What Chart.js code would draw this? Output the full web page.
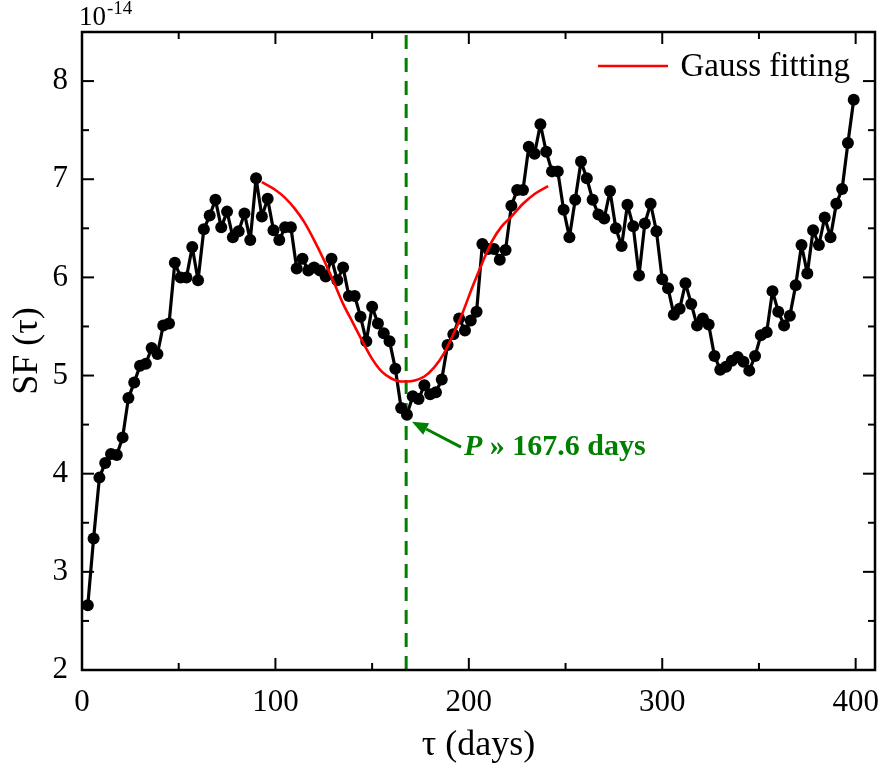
<!DOCTYPE html>
<html><head><meta charset="utf-8">
<script src="https://cdn.jsdelivr.net/npm/chart.js@4.4.1/dist/chart.umd.min.js"></script>
<style>html,body{margin:0;padding:0;background:#fff}#wrap{width:883px;height:770px}</style>
</head><body><div id="wrap"><canvas id="c" width="883" height="770"></canvas></div>
<script>
// ---- data ----
const tau = [3,6,9,12,15,18,21,24,27,30,33,36,39,42,45,48,51,54,57,60,63,66,69,72,75,78,81,84,87,90,93,96,
 99,102,105,108,111,114,117,120,123,126,129,132,135,138,141,144,147,150,153,156,159,162,165,168,171,174,177,180,183,186,
 189,192,195,198,201,204,207,210,213,216,219,222,225,228,231,234,237,240,243,246,249,252,255,258,261,264,267,270,273,276,
 279,282,285,288,291,294,297,300,303,306,309,312,315,318,321,324,327,330,333,336,339,342,345,348,351,354,357,360,363,366,369,372,375,378,381,384,387,390,393,396,399];
const sf = [2.66,3.34,3.96,4.11,4.20,4.19,4.37,4.77,4.93,5.10,5.12,5.28,5.22,5.51,5.53,6.15,6.00,6.00,6.31,5.97,6.49,6.63,6.79,6.51,6.67,6.41,6.47,6.65,6.38,7.01,6.62,6.80,
 6.48,6.38,6.51,6.51,6.09,6.19,6.07,6.10,6.07,6.01,6.19,5.97,6.10,5.81,5.81,5.60,5.35,5.70,5.53,5.43,5.35,5.07,4.67,4.60,4.79,4.76,4.90,4.81,4.83,4.96,
 5.31,5.42,5.58,5.46,5.56,5.65,6.34,6.29,6.29,6.18,6.28,6.73,6.89,6.89,7.33,7.26,7.56,7.28,7.08,7.08,6.69,6.41,6.79,7.18,7.01,6.79,6.64,6.60,6.88,6.50,
 6.32,6.74,6.52,6.02,6.55,6.75,6.47,5.98,5.89,5.62,5.68,5.94,5.73,5.51,5.58,5.52,5.20,5.06,5.09,5.15,5.19,5.14,5.05,5.20,5.41,5.44,5.86,5.65,5.51,5.61,5.92,6.33,6.04,6.48,6.33,6.61,6.41,6.75,6.90,7.37,7.81];
const fitTau = [93,100,105,110,115,120,125,130,135,140,145,150,155,160,165,168,172,177,182,187,192,197,202,207,212,217,222,228,234,241];
const fitSF  = [6.97,6.89,6.81,6.70,6.56,6.38,6.18,5.96,5.73,5.54,5.35,5.17,5.04,4.97,4.94,4.94,4.95,4.99,5.08,5.22,5.42,5.65,5.91,6.15,6.37,6.52,6.62,6.75,6.85,6.93];
const xTicks = [0,100,200,300,400];
const xMinorTicks = [50,150,250,350];
const yTicks = [2,3,4,5,6,7,8];
const yMinorTicks = [2.5,3.5,4.5,5.5,6.5,7.5];
const period = 167.6;
const periodLabelItalic = 'P';
const periodLabelRest = ' \u00bb ' + period + ' days';
const fitLabel = 'Gauss fitting';
const yExponent = '-14';
const arrowTip = {x: 170.6, y: 4.53};
const labelAnchor = {x: 197.5, y: 4.19};

const FONT = "'Liberation Serif','Times New Roman',serif";
const GREEN = '#008000';

const frameAndDecor = {
  id: 'frameAndDecor',
  afterDraw(chart) {
    const ctx = chart.ctx, ca = chart.chartArea, xs = chart.scales.x, ys = chart.scales.y;
    ctx.save();
    ctx.strokeStyle = '#000';
    ctx.lineWidth = 2;
    const seg = (a, b, c, d) => { ctx.beginPath(); ctx.moveTo(a, b); ctx.lineTo(c, d); ctx.stroke(); };
    xTicks.forEach(v => { const p = xs.getPixelForValue(v); seg(p, ca.bottom, p, ca.bottom - 12); seg(p, ca.top, p, ca.top + 12); });
    xMinorTicks.forEach(v => { const p = xs.getPixelForValue(v); seg(p, ca.bottom, p, ca.bottom - 7); seg(p, ca.top, p, ca.top + 7); });
    yTicks.forEach(v => { const p = ys.getPixelForValue(v); seg(ca.left, p, ca.left + 12, p); seg(ca.right, p, ca.right - 12, p); });
    yMinorTicks.forEach(v => { const p = ys.getPixelForValue(v); seg(ca.left, p, ca.left + 7, p); seg(ca.right, p, ca.right - 7, p); });
    ctx.lineWidth = 2.5;
    ctx.strokeRect(ca.left, ca.top, ca.right - ca.left, ca.bottom - ca.top);

    // exponent label
    ctx.fillStyle = '#000';
    ctx.textBaseline = 'alphabetic';
    ctx.textAlign = 'left';
    ctx.font = '27px ' + FONT;
    ctx.fillText('10', ca.left - 3, 25);
    const w10 = ctx.measureText('10').width;
    ctx.font = '19px ' + FONT;
    ctx.fillText(yExponent, ca.left - 3 + w10 + 1, 14);

    // legend
    const ly = 66;
    ctx.strokeStyle = '#ff0000';
    ctx.lineWidth = 2.5;
    seg(598, ly, 668, ly);
    ctx.font = '33px ' + FONT;
    ctx.textAlign = 'right';
    ctx.fillText(fitLabel, 850, 76);

    // annotation arrow
    const tx = xs.getPixelForValue(arrowTip.x), ty = ys.getPixelForValue(arrowTip.y);
    const lx = xs.getPixelForValue(labelAnchor.x), lyy = ys.getPixelForValue(labelAnchor.y);
    const sx = lx - 3, sy = lyy - 8;
    const ang = Math.atan2(ty - sy, tx - sx);
    ctx.strokeStyle = GREEN; ctx.fillStyle = GREEN; ctx.lineWidth = 3;
    const hl = 16, hw = 6.5;
    const bx = tx - hl * Math.cos(ang), by = ty - hl * Math.sin(ang);
    seg(sx, sy, bx, by);
    ctx.beginPath();
    ctx.moveTo(tx, ty);
    ctx.lineTo(bx + hw * Math.sin(ang), by - hw * Math.cos(ang));
    ctx.lineTo(bx - hw * Math.sin(ang), by + hw * Math.cos(ang));
    ctx.closePath(); ctx.fill();

    ctx.textAlign = 'left';
    ctx.font = 'italic bold 30px ' + FONT;
    ctx.fillText(periodLabelItalic, lx, lyy);
    const wp = ctx.measureText(periodLabelItalic).width;
    ctx.font = 'bold 30px ' + FONT;
    ctx.fillText(periodLabelRest, lx + wp, lyy);
    ctx.restore();
  }
};

new Chart(document.getElementById('c'), {
  type: 'scatter',
  data: {
    datasets: [
      { label: 'period', data: [{x: period, y: 2}, {x: period, y: 8.5}], showLine: true, borderColor: GREEN, borderWidth: 3,
        borderDash: [14, 9], pointRadius: 0, order: 3 },
      { label: 'SF', data: tau.map((t, i) => ({x: t, y: sf[i]})), showLine: true, borderColor: '#000', borderWidth: 3.2,
        borderJoinStyle: 'round', pointRadius: 6, pointBackgroundColor: '#000', pointBorderWidth: 0, order: 2 },
      { label: fitLabel, data: fitTau.map((t, i) => ({x: t, y: fitSF[i]})), showLine: true, borderColor: '#ff0000', borderWidth: 2.6,
        pointRadius: 0, cubicInterpolationMode: 'monotone', order: 1 }
    ]
  },
  options: {
    responsive: false, animation: false, devicePixelRatio: 1,
    layout: { padding: { top: 32, right: 8, left: 0, bottom: 0 } },
    plugins: { legend: { display: false }, tooltip: { enabled: false } },
    scales: {
      x: {
        type: 'linear', min: 0, max: 410,
        afterBuildTicks: s => { s.ticks = xTicks.map(v => ({value: v})); },
        afterFit: s => { s.height = 100; s.paddingLeft = 0; s.paddingRight = 0; },
        grid: { display: false, drawTicks: false }, border: { display: false },
        ticks: { font: { family: FONT, size: 31 }, color: '#000', padding: 14, maxRotation: 0 },
        title: { display: true, text: '\u03c4 (days)', font: { family: FONT, size: 36 }, color: '#000', padding: { bottom: 3, top: 0 } }
      },
      y: {
        type: 'linear', min: 2, max: 8.5,
        afterBuildTicks: s => { s.ticks = yTicks.map(v => ({value: v})); },
        afterFit: s => { s.width = 82; s.paddingTop = 0; s.paddingBottom = 0; },
        grid: { display: false, drawTicks: false }, border: { display: false },
        ticks: { font: { family: FONT, size: 31 }, color: '#000', padding: 14 },
        title: { display: true, text: 'SF (\u03c4)', font: { family: FONT, size: 36 }, color: '#000', padding: { top: 6, bottom: 0 } }
      }
    }
  },
  plugins: [frameAndDecor]
});
</script></body></html>
